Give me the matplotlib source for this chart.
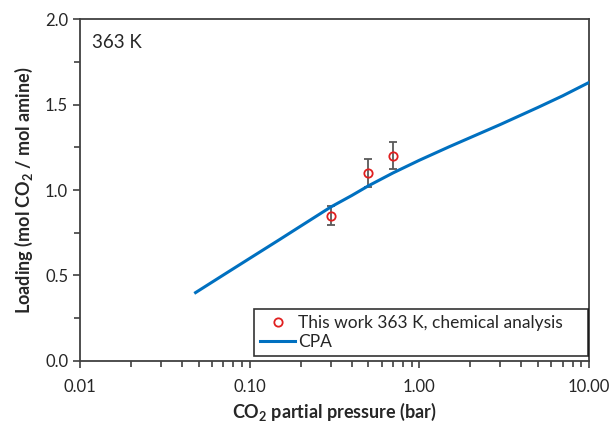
import numpy as np
import matplotlib
matplotlib.use("Agg")
import matplotlib.pyplot as plt
from matplotlib.ticker import FixedLocator, FormatStrFormatter, LogLocator, NullFormatter

plt.rcParams['font.family'] = ['Lato', 'DejaVu Sans']
plt.rcParams['mathtext.fontset'] = 'custom'
plt.rcParams['mathtext.rm'] = 'Lato'
plt.rcParams['mathtext.bf'] = 'Lato:bold'

# measured data, 363 K
p_exp = [0.30, 0.50, 0.70]
load_exp = [0.85, 1.10, 1.20]
err_exp = [0.055, 0.08, 0.08]

# CPA model curve
p_cpa = [0.048, 0.07, 0.1, 0.15, 0.2, 0.3, 0.4, 0.5, 0.7, 1.0, 1.5, 2.0, 3.0, 5.0, 7.0, 10.0]
load_cpa = [0.40, 0.503, 0.60, 0.71, 0.789, 0.90, 0.968, 1.024, 1.100, 1.174, 1.253,
            1.307, 1.383, 1.483, 1.551, 1.629]

axis_col = '#404040'

fig = plt.figure(figsize=(6.12, 4.23), dpi=100)
ax = fig.add_axes([0.1307, 0.1466, 0.8317, 0.8084])

ax.errorbar(p_exp, load_exp, yerr=err_exp, fmt='none', ecolor='#595959',
            elinewidth=1.3, capsize=3, capthick=1.3, zorder=2)
ax.plot(p_cpa, load_cpa, color='#0070C0', lw=2.2, label='CPA', zorder=3)
ax.plot(p_exp, load_exp, 'o', mfc='none', mec='#E02020', mew=1.3, ms=6,
        label='This work 363 K, chemical analysis', zorder=4)

ax.set_xscale('log')
ax.set_xlim(0.01, 10)
ax.set_ylim(0, 2.0)
ax.xaxis.set_major_locator(FixedLocator([0.01, 0.1, 1, 10]))
ax.xaxis.set_major_formatter(FormatStrFormatter('%.2f'))
ax.xaxis.set_minor_locator(LogLocator(base=10, subs=np.arange(2, 10)))
ax.xaxis.set_minor_formatter(NullFormatter())
ax.set_yticks([0, 0.5, 1.0, 1.5, 2.0])
ax.yaxis.set_major_formatter(FormatStrFormatter('%.1f'))
ax.yaxis.set_minor_locator(FixedLocator([0.25, 0.75, 1.25, 1.75]))

ax.tick_params(which='both', direction='out', colors=axis_col, labelcolor='#262626',
               labelsize=12, width=1.2)
ax.tick_params(which='major', length=5)
ax.tick_params(which='minor', length=4)
ax.tick_params(axis='x', pad=8)
for s in ax.spines.values():
    s.set_color(axis_col)
    s.set_linewidth(1.3)

ax.set_xlabel(r'CO$_\mathbf{2}$ partial pressure (bar)', fontsize=13, fontweight='bold',
              color='#262626', labelpad=4)
ax.set_ylabel(r'Loading (mol CO$_\mathbf{2}$ / mol amine)', fontsize=13, fontweight='bold',
              color='#262626', labelpad=7)

ax.text(0.024, 0.93, '363 K', transform=ax.transAxes, fontsize=13.5,
        color='#262626', va='center', ha='left')

h, l = ax.get_legend_handles_labels()
leg = ax.legend([h[1], h[0]], [l[1], l[0]], loc='lower left',
                bbox_to_anchor=(0.342, 0.015, 0.656, 0.14), mode='expand',
                fontsize=12.5, frameon=True, fancybox=False, borderpad=0.35,
                handlelength=2.0, handletextpad=0.2, labelspacing=0.15, borderaxespad=0)
leg.get_frame().set_edgecolor('black')
leg.get_frame().set_linewidth(1.2)
for t in leg.get_texts():
    t.set_color('#262626')

fig.savefig('out.png', dpi=100)
